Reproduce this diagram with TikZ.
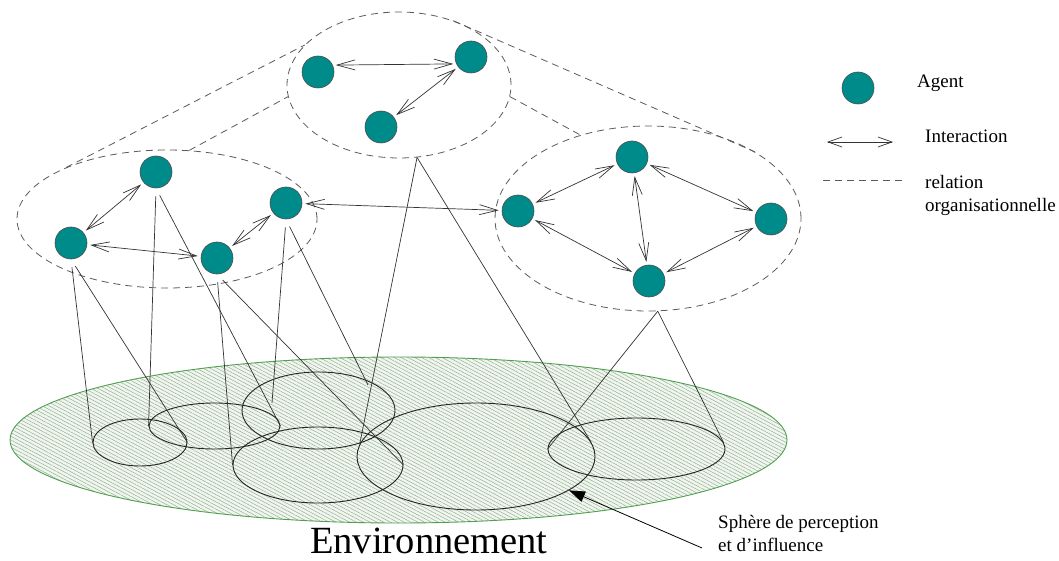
\documentclass[tikz,border=0pt]{standalone}
\usepackage{fontspec}
\setmainfont{Liberation Serif}
\usepackage{tikz}
\usetikzlibrary{arrows.meta,shapes.geometric,patterns.meta}

\definecolor{agentteal}{RGB}{0,139,139}
\definecolor{envgreen}{RGB}{80,160,80}
\definecolor{envbg}{RGB}{238,247,235}
\definecolor{hatchgray}{RGB}{155,162,155}
\definecolor{relgray}{RGB}{90,90,90}

\begin{document}
\begin{tikzpicture}[x=1pt, y=-1pt,
	agent/.style={circle, draw=black!70, line width=0.6pt, fill=agentteal, minimum size=32pt, inner sep=0pt},
	clusterbox/.style={ellipse, draw=relgray, line width=0.8pt, dash pattern=on 7pt off 5pt, inner sep=0pt},
	relation/.style={draw=relgray, line width=0.8pt, dash pattern=on 7pt off 5pt},
	interact/.style={{Straight Barb[length=18pt,width=10pt]}-{Straight Barb[length=18pt,width=10pt]}, line width=0.7pt, black!80, shorten <=3pt, shorten >=3pt},
	perception/.style={ellipse, draw=black!85, line width=0.9pt, inner sep=0pt},
	sightline/.style={draw=black!80, line width=0.7pt},
	legendtext/.style={font=\fontsize{19}{23}\selectfont, inner sep=0pt}]
	\useasboundingbox (0,0) rectangle (1059,561);

	% Environment
	\draw[envgreen, line width=0.9pt, preaction={fill=envbg}, pattern={Lines[angle=-28,distance=3.2pt,line width=0.45pt]}, pattern color=hatchgray] (398.5,440) ellipse [x radius=388.5pt, y radius=83pt];
	\node (Tenv) at (310,553) [anchor=base west, inner sep=0pt, font=\fontsize{38.5}{42}\selectfont] {Environnement};

	% Spheres of perception
	\node (S1) at (140,442.5) [perception, minimum width=94pt, minimum height=47pt] {};
	\node (S2) at (214.5,426) [perception, minimum width=131pt, minimum height=46pt] {};
	\node (S3) at (318.5,410.5) [perception, minimum width=153pt, minimum height=77pt] {};
	\node (S4) at (318,465) [perception, minimum width=170pt, minimum height=76pt] {};
	\node (S5) at (476,456.5) [perception, minimum width=238pt, minimum height=107pt] {};
	\node (S6) at (636.5,449) [perception, minimum width=177pt, minimum height=62pt] {};
	\coordinate (s3a) at (272,403);
	\coordinate (s3b) at (368,385);

	% Groups
	\node (Gtop) at (399,85) [clusterbox, minimum width=224pt, minimum height=146pt] {};
	\node (Gleft) at (167,219) [clusterbox, minimum width=300pt, minimum height=138pt] {};
	\node (Gright) at (648,218.5) [clusterbox, minimum width=306pt, minimum height=185pt] {};

	% Agents
	\node (A1) at (318,72) [agent] {};
	\node (A2) at (471,57) [agent] {};
	\node (A3) at (381,127) [agent] {};
	\node (B1) at (156,172) [agent] {};
	\node (B2) at (71,243) [agent] {};
	\node (B3) at (217,258) [agent] {};
	\node (B4) at (286,203) [agent] {};
	\node (C1) at (518,211) [agent] {};
	\node (C2) at (632,157) [agent] {};
	\node (C3) at (771,219) [agent] {};
	\node (C4) at (649,281) [agent] {};

	% Perception lines
	\draw[sightline, shorten <=8pt] (B2.south) -- (S1.west);
	\draw[sightline, shorten <=8pt] (B2.south) -- (S1.east);
	\draw[sightline, shorten <=8pt] (B1.south) -- (S2.west);
	\draw[sightline, shorten <=8pt] (B1.south) -- (S2.east);
	\draw[sightline, shorten <=8pt] (B3.south) -- (S4.west);
	\draw[sightline, shorten <=8pt] (B3.south) -- (S4.east);
	\draw[sightline, shorten <=8pt] (B4.south) -- (s3a);
	\draw[sightline, shorten <=8pt] (B4.south) -- (s3b);
	\draw[sightline] (Gtop.-76) -- (S5.174);
	\draw[sightline] (Gtop.-76) -- (S5.7);
	\draw[sightline] (Gright.-84) -- (S6.west);
	\draw[sightline] (Gright.-84) -- (S6.4);

	% Organisational relations
	\draw[relation] (Gleft.153) -- (Gtop.157);
	\draw[relation] (Gleft.72) -- (Gtop.186);
	\draw[relation] (Gtop.50) -- (Gright.32);
	\draw[relation] (Gtop.-6) -- (Gright.129);

	% Interactions
	\draw[interact] (A1.25) -- (A2.205);
	\draw[interact] (A2) -- (A3);
	\draw[interact] (B1) -- (B2);
	\draw[interact] (B2) -- (B3);
	\draw[interact] (B3) -- (B4);
	\draw[interact] (B4) -- (C1);
	\draw[interact] (C1) -- (C2);
	\draw[interact] (C2) -- (C3);
	\draw[interact] (C2) -- (C4);
	\draw[interact] (C1) -- (C4);
	\draw[interact] (C4) -- (C3);

	% Legend
	\node (Lagent) at (858,88) [agent] {};
	\node (Tagent) at (917,88) [legendtext, anchor=base west] {Agent};
	\coordinate (Li1) at (827,142);
	\coordinate (Li2) at (893,142);
	\draw[interact, shorten <=0pt, shorten >=0pt, {Straight Barb[length=14pt,width=10pt]}-{Straight Barb[length=14pt,width=10pt]}] (Li1) -- (Li2);
	\node (Tinter) at (925,143) [legendtext, anchor=base west] {Interaction};
	\coordinate (Lr1) at (823,180);
	\coordinate (Lr2) at (902,180);
	\draw[relation] (Lr1) -- (Lr2);
	\node (Trel) at (925,212) [legendtext, anchor=base west, align=left] {relation\\organisationnelle};

	% Pointer to a sphere
	\node (Tsphere) at (718,551) [legendtext, anchor=base west, align=left] {Sphère de perception\\et d’influence};
	\coordinate (ptr) at (702,548);
	\draw[-{Triangle[length=16pt,width=11pt]}, line width=0.8pt] (ptr) -- (S5.-20);

\end{tikzpicture}
\end{document}
